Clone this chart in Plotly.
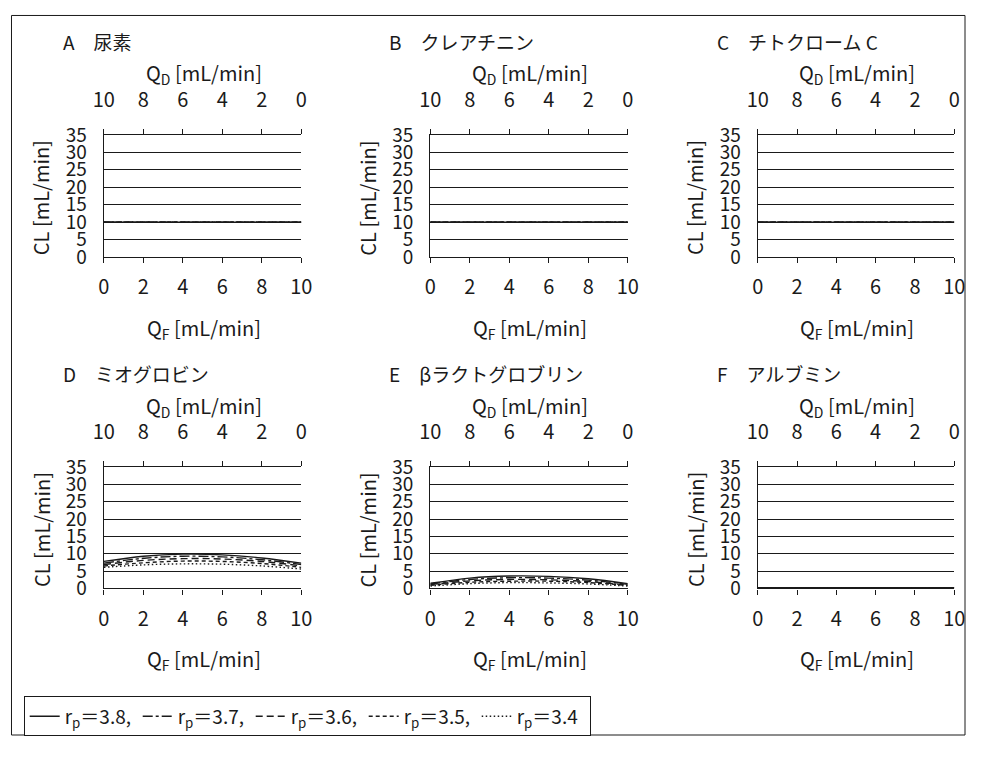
import plotly.graph_objects as go

# ---------------- data ----------------
qf = [0, 2, 4, 6, 8, 10]
rp_labels = ["3.8", "3.7", "3.6", "3.5", "3.4"]
dashes = ["solid", "10px,3px,3px,3px", "7px,4px", "4px,3px", "1.5px,2.5px"]

qd_ticks = [10, 8, 6, 4, 2, 0]
qf_ticks = [0, 2, 4, 6, 8, 10]
cl_ticks = [0, 5, 10, 15, 20, 25, 30, 35]

titles = ["A　尿素", "B　クレアチニン", "C　チトクローム C",
          "D　ミオグロビン", "E　βラクトグロブリン", "F　アルブミン"]

urea = [
    [10.0, 10.0, 10.0, 10.0, 10.0, 10.0],
    [10.0, 10.0, 10.0, 10.0, 10.0, 10.0],
    [10.0, 10.0, 10.0, 10.0, 10.0, 10.0],
    [10.0, 10.0, 10.0, 10.0, 10.0, 10.0],
    [10.0, 10.0, 10.0, 10.0, 10.0, 10.0],
]
creatinine = [
    [10.0, 10.0, 10.0, 10.0, 10.0, 10.0],
    [10.0, 10.0, 10.0, 10.0, 10.0, 10.0],
    [10.0, 10.0, 10.0, 10.0, 10.0, 10.0],
    [10.0, 10.0, 10.0, 10.0, 10.0, 10.0],
    [10.0, 10.0, 10.0, 10.0, 10.0, 10.0],
]
cytochrome_c = [
    [10.0, 10.0, 10.0, 10.0, 10.0, 10.0],
    [10.0, 10.0, 10.0, 10.0, 10.0, 10.0],
    [10.0, 10.0, 10.0, 10.0, 10.0, 10.0],
    [10.0, 10.0, 10.0, 10.0, 10.0, 10.0],
    [10.0, 10.0, 10.0, 10.0, 10.0, 10.0],
]
myoglobin = [
    [7.8, 9.3, 9.9, 9.7, 8.8, 7.3],
    [7.3, 8.7, 9.3, 9.1, 8.3, 6.9],
    [6.9, 8.1, 8.6, 8.5, 7.8, 6.5],
    [6.5, 7.4, 7.9, 7.8, 7.2, 6.1],
    [6.1, 6.8, 7.1, 7.0, 6.5, 5.6],
]
beta_lactoglobulin = [
    [1.5, 3.0, 3.6, 3.5, 2.8, 1.4],
    [1.3, 2.6, 3.1, 3.0, 2.4, 1.2],
    [1.1, 2.2, 2.6, 2.5, 2.0, 1.0],
    [0.9, 1.8, 2.1, 2.1, 1.7, 0.9],
    [0.7, 1.4, 1.7, 1.6, 1.3, 0.7],
]
albumin = [
    [0.2, 0.2, 0.2, 0.2, 0.2, 0.2],
    [0.2, 0.2, 0.2, 0.2, 0.2, 0.2],
    [0.1, 0.1, 0.1, 0.1, 0.1, 0.1],
    [0.1, 0.1, 0.1, 0.1, 0.1, 0.1],
    [0.1, 0.1, 0.1, 0.1, 0.1, 0.1],
]
panels = [urea, creatinine, cytochrome_c, myoglobin, beta_lactoglobulin, albumin]

# ---------------- layout geometry (page pixels) ----------------
# page body keeps an 8px margin, so the figure is 16px smaller and
# every page coordinate is shifted by OFF.
OFF = 8
W, H = 992 - 2 * OFF, 763 - 2 * OFF
col_x = [(103, 305), (437, 639), (772, 973)]
row_y = [(132.5, 259), (477, 603)]  # (top, bottom)
title_y = [35, 380]
qd_y = [69, 414]
qf_y = [333, 677]

FONT = "Noto Sans CJK JP, Liberation Sans, sans-serif"
INK = "#1a1a1a"


def px(x):
    return (x - OFF) / W


def py(y):
    return 1 - (y - OFF) / H


def sfx(n):
    return "" if n == 1 else str(n)


fig = go.Figure()
layout = dict(
    width=W, height=H,
    margin=dict(l=0, r=0, t=0, b=0),
    paper_bgcolor="white", plot_bgcolor="white",
    font=dict(family=FONT, color=INK, size=19),
    showlegend=True,
    annotations=[], shapes=[],
)

for k in range(6):
    r, c = divmod(k, 3)
    xb = 2 * k + 1
    xt = 2 * k + 2
    yk = k + 1
    xd = [px(col_x[c][0]), px(col_x[c][1])]
    yd = [py(row_y[r][1]), py(row_y[r][0])]

    layout["xaxis" + sfx(xb)] = dict(
        domain=xd, anchor="y" + sfx(yk), range=[0, 10],
        tickvals=qf_ticks, ticktext=[str(v) for v in qf_ticks],
        ticks="outside", ticklen=5, tickcolor=INK, tickwidth=1,
        showline=True, linecolor=INK, linewidth=1.3,
        showgrid=False, zeroline=False, fixedrange=True,
        tickfont=dict(size=20), ticklabelstandoff=7,
    )
    layout["xaxis" + sfx(xt)] = dict(
        domain=xd, anchor="y" + sfx(yk), overlaying="x" + sfx(xb), side="top",
        range=[10, 0],
        tickvals=qd_ticks, ticktext=[str(v) for v in qd_ticks],
        ticks="outside", ticklen=5, tickcolor=INK, tickwidth=1,
        showline=True, linecolor=INK, linewidth=1.3,
        showgrid=False, zeroline=False, fixedrange=True,
        tickfont=dict(size=20), ticklabelstandoff=14,
    )
    layout["yaxis" + sfx(yk)] = dict(
        domain=yd, anchor="x" + sfx(xb), range=[0, 35],
        tickvals=cl_ticks, ticktext=[str(v) for v in cl_ticks],
        ticks="", showline=True, linecolor=INK, linewidth=1.3,
        showgrid=True, gridcolor=INK, gridwidth=1.3,
        zeroline=False, fixedrange=True,
        tickfont=dict(size=19), ticklabelstandoff=12,
    )

    # invisible helper so the top axis is rendered
    fig.add_trace(go.Scatter(x=[0, 10], y=[None, None], xaxis="x" + sfx(xt),
                             yaxis="y" + sfx(yk), mode="lines",
                             showlegend=False, hoverinfo="skip"))

    for i, series in enumerate(panels[k]):
        fig.add_trace(go.Scatter(
            x=qf, y=series, xaxis="x" + sfx(xb), yaxis="y" + sfx(yk),
            mode="lines", line=dict(color=INK, width=1.4, dash=dashes[i],
                                    shape="spline", smoothing=1.0),
            name="r<sub>p</sub>＝" + rp_labels[i] + ("," if i < 4 else ""),
            showlegend=(k == 3), legendrank=i + 1, hoverinfo="skip",
        ))

    x0, x1 = col_x[c]
    cx = (x0 + x1) / 2 + 1
    ann = layout["annotations"]
    ann.append(dict(xref="paper", yref="paper", x=px(x0 - 44), y=py(title_y[r]),
                    text=titles[k], showarrow=False, xanchor="left",
                    yanchor="middle", font=dict(size=19)))
    ann.append(dict(xref="paper", yref="paper", x=px(cx), y=py(qd_y[r]),
                    text="Q<sub>D</sub> [mL/min]", showarrow=False,
                    xanchor="center", yanchor="middle", font=dict(size=20)))
    ann.append(dict(xref="paper", yref="paper", x=px(cx), y=py(qf_y[r]),
                    text="Q<sub>F</sub> [mL/min]", showarrow=False,
                    xanchor="center", yanchor="middle", font=dict(size=20)))
    ann.append(dict(xref="paper", yref="paper", x=px(x0 - 64),
                    y=py((row_y[r][0] + row_y[r][1]) / 2 + 2),
                    text="CL [mL/min]", showarrow=False, textangle=-90,
                    xanchor="center", yanchor="middle", font=dict(size=20)))

# outer frame
layout["shapes"].append(dict(type="rect", xref="paper", yref="paper",
                             x0=px(8.5), x1=px(984), y0=py(755), y1=py(8.5),
                             line=dict(color=INK, width=1)))

layout["legend"] = dict(
    orientation="h", x=px(21), y=py(715), xanchor="left", yanchor="top",
    bordercolor=INK, borderwidth=1, bgcolor="white",
    font=dict(size=19), itemwidth=30, tracegroupgap=0,
    entrywidth=68, entrywidthmode="pixels",
    traceorder="normal",
)

fig.update_layout(**layout)
fig.write_html("out.html", config={"displayModeBar": False})
